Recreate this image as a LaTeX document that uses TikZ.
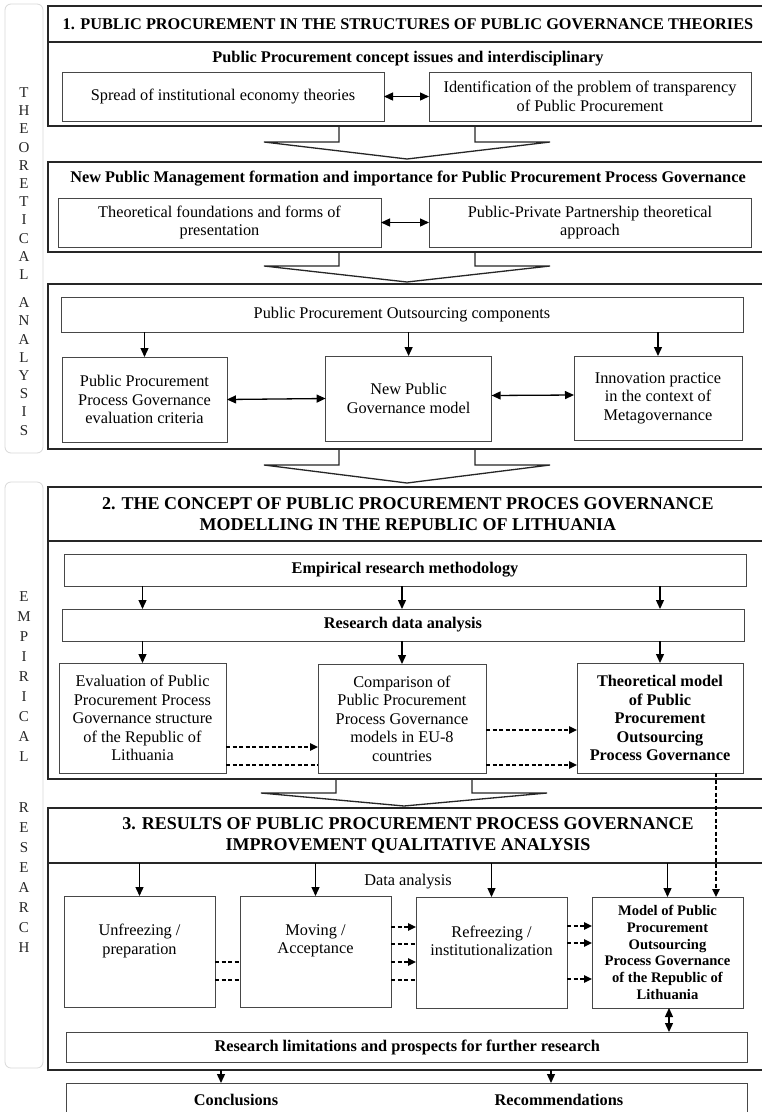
\documentclass[tikz,border=0pt]{standalone}
\usepackage{fontspec}
\setmainfont{Liberation Serif}
\usetikzlibrary{arrows.meta,calc}

% flat block arrow hanging below a section box: centre x, top y, neck y, tip y
\newcommand\blockarrow[4]{%
  \draw[blk] ({#1-68},#2) -- ({#1-68},#3) -- ({#1-143},#3) -- (#1,#4)
    -- ({#1+143},#3) -- ({#1+68},#3) -- ({#1+68},#2);}

\begin{document}
\begin{tikzpicture}[x=1pt,y=-1pt,
  every node/.style={inner sep=0pt, outer sep=0pt},
  body/.style={font=\fontsize{16.3}{18.5}\selectfont, align=center},
  bodyb/.style={font=\fontsize{16.3}{18.5}\selectfont\bfseries, align=center},
  ttl/.style={font=\fontsize{18}{20.5}\selectfont\bfseries, align=center},
  sect/.style={draw=black!85, line width=1.3pt, rectangle},
  ibox/.style={draw=black!72, line width=1pt, rectangle, fill=white},
  side/.style={draw=black!15, line width=0.8pt, rounded corners=6pt, rectangle},
  sidetxt/.style={font=\fontsize{15}{18.2}\selectfont, align=center, text=black!85},
  arr/.style={-{Triangle[length=9pt,width=8pt]}, line width=1.3pt},
  darr/.style={{Triangle[length=9pt,width=8pt]}-{Triangle[length=9pt,width=8pt]}, line width=1.3pt},
  dsh/.style={dash pattern=on 4pt off 2.5pt, line width=1.3pt},
  dsharr/.style={dsh, -{Triangle[length=8pt,width=7.5pt]}},
  blk/.style={draw=black!85, line width=1.3pt, line join=miter},
]
\useasboundingbox (0,0) rectangle (762,1112);
\clip (0,0) rectangle (762,1112);
\fill[white] (0,0) rectangle (762,1112);

% ---------- side captions ----------
\node[side, minimum width=38, minimum height=449] (sp1) at (24,228.5) {};
\node[sidetxt] (sp1a) at (24,183.5) {T\\H\\E\\O\\R\\E\\T\\I\\C\\A\\L};
\node[sidetxt] (sp1b) at (24,366.5) {A\\N\\A\\L\\Y\\S\\I\\S};
\node[side, minimum width=38, minimum height=586] (sp2) at (24,775) {};
\node[sidetxt, font=\fontsize{15}{19.9}\selectfont] (sp2a) at (24,676.5) {E\\M\\P\\I\\R\\I\\C\\A\\L};
\node[sidetxt, font=\fontsize{15}{19.9}\selectfont] (sp2b) at (24,877.5) {R\\E\\S\\E\\A\\R\\C\\H};

% ---------- section 1 ----------
\node[sect, minimum width=720, minimum height=120] (s1) at (408,66) {};
\node[sect, minimum width=720, minimum height=36, font=\fontsize{16.3}{19}\selectfont\bfseries] (t1) at (408,24)
  {1. PUBLIC PROCUREMENT IN THE STRUCTURES OF PUBLIC GOVERNANCE THEORIES};
\node[bodyb] (h1) at (408,59) {Public Procurement concept issues and interdisciplinary};
\node[ibox, body, minimum width=322, minimum height=49] (spread) at (223,96.5)
  {Spread of institutional economy theories};
\node[ibox, body, minimum width=322, minimum height=49] (ident) at (590,96.5)
  {Identification of the problem of transparency\\of Public Procurement};
\draw[darr] (spread.east) -- (ident.west);

\blockarrow{407}{126}{142}{159}

\node[sect, minimum width=720, minimum height=90] (s2) at (408,207) {};
\node[bodyb] (h2) at (408,179)
  {New Public Management formation and importance for Public Procurement Process Governance};
\node[ibox, body, minimum width=323, minimum height=49] (theo) at (219.5,222.5)
  {Theoretical foundations and forms of\\presentation};
\node[ibox, body, minimum width=322, minimum height=49] (ppp) at (590,222.5)
  {Public-Private Partnership theoretical\\approach};
\draw[darr] (theo.east) -- (ppp.west);

\blockarrow{407}{252}{266}{282}

\node[sect, minimum width=720, minimum height=165] (s3) at (408,366.5) {};
\node[ibox, body, minimum width=682, minimum height=35] (comp) at (402,314.5)
  {Public Procurement Outsourcing components};
\node[ibox, body, minimum width=165, minimum height=85] (eval) at (144.5,399.5)
  {Public Procurement\\Process Governance\\evaluation criteria};
\node[ibox, body, minimum width=166, minimum height=85] (npg) at (408.6,398.5)
  {New Public\\Governance model};
\node[ibox, body, minimum width=168, minimum height=84] (innov) at (658,398)
  {Innovation practice\\in the context of\\Metagovernance};
\foreach \b in {eval,npg,innov}
  \draw[arr] (comp.south -| \b.north) -- (\b.north);
\draw[darr] (eval.east) -- (npg.west);
\draw[darr] ([yshift=3pt]npg.east) -- ([yshift=3pt]innov.west);

\blockarrow{407}{449}{465}{483}

% ---------- section 2 ----------
\node[sect, minimum width=720, minimum height=292] (s4) at (408,633) {};
\node[sect, ttl, minimum width=720, minimum height=54] (t4) at (408,514)
  {2. THE CONCEPT OF PUBLIC PROCUREMENT PROCES GOVERNANCE\\MODELLING IN THE REPUBLIC OF LITHUANIA};
\node[ibox, bodyb, minimum width=682, minimum height=32] (emp) at (405,570)
  {Empirical research methodology};
\node[ibox, bodyb, minimum width=682, minimum height=32] (rda) at (403,625)
  {Research data analysis};
\node[ibox, body, minimum width=167, minimum height=110] (evl) at (142.5,718)
  {Evaluation of Public\\Procurement Process\\Governance structure\\of the Republic of\\Lithuania};
\node[ibox, body, minimum width=168, minimum height=109] (cmp) at (402,718.5)
  {Comparison of\\Public Procurement\\Process Governance\\models in EU-8\\countries};
\node[ibox, bodyb, minimum width=166, minimum height=110] (thm) at (660,718)
  {Theoretical model\\of Public\\Procurement\\Outsourcing\\Process Governance};
\foreach \b in {evl,cmp,thm} {
  \draw[arr] (emp.south -| \b.north) -- (rda.north -| \b.north);
  \draw[arr] (rda.south -| \b.north) -- (\b.north);
}
\draw[dsharr] (cmp.east |- 0,730) -- (thm.west |- 0,730);
\draw[dsharr] (evl.east |- 0,747) -- (cmp.west |- 0,747);
\draw[dsh] (evl.east |- 0,765) -- (cmp.west |- 0,765);
\draw[dsharr] (cmp.east |- 0,765) -- (thm.west |- 0,765);

\blockarrow{404}{779}{793}{806}

% ---------- section 3 ----------
\node[sect, minimum width=720, minimum height=262] (s5) at (408,939) {};
\node[sect, ttl, minimum width=720, minimum height=55] (t5) at (408,835.5)
  {3. RESULTS OF PUBLIC PROCUREMENT PROCESS GOVERNANCE\\IMPROVEMENT QUALITATIVE ANALYSIS};
\node[body] (da) at (408,882) {Data analysis};
\node[ibox, minimum width=151, minimum height=111] (unf) at (139.5,951.5) {};
\node[ibox, minimum width=151, minimum height=111] (mov) at (315.5,951.5) {};
\node[ibox, minimum width=151, minimum height=111] (ref) at (491.5,952.5) {};
\node[ibox, minimum width=151, minimum height=111,
      font=\fontsize{14.6}{16.7}\selectfont\bfseries, align=center] (mdl) at (667.5,952.5)
  {Model of Public\\Procurement\\Outsourcing\\Process Governance\\of the Republic of\\Lithuania};
\node[body] (unft) at ([yshift=10.5pt]unf.center) {Unfreezing /\\preparation};
\node[body] (movt) at ([yshift=10.5pt]mov.center) {Moving /\\Acceptance};
\node[body] (reft) at ([yshift=11.5pt]ref.center) {Refreezing /\\institutionalization};
\foreach \b in {unf,mov,ref,mdl}
  \draw[arr] (t5.south -| \b.north) -- (\b.north);
\draw[dsharr] (thm.south -| 716,0) -- (mdl.north -| 716,0);

\draw[dsh] (unf.east |- 0,962) -- (mov.west |- 0,962);
\draw[dsh] (unf.east |- 0,980) -- (mov.west |- 0,980);
\draw[dsharr] (mov.east |- 0,927) -- (ref.west |- 0,927);
\draw[dsh] (mov.east |- 0,944) -- (ref.west |- 0,944);
\draw[dsharr] (mov.east |- 0,962) -- (ref.west |- 0,962);
\draw[dsh] (mov.east |- 0,980) -- (ref.west |- 0,980);
\draw[dsharr] (ref.east |- 0,926) -- (mdl.west |- 0,926);
\draw[dsharr] (ref.east |- 0,943) -- (mdl.west |- 0,943);
\draw[dsharr] (ref.east |- 0,979) -- (mdl.west |- 0,979);

\node[ibox, bodyb, minimum width=681, minimum height=30] (lim) at (407.3,1047)
  {Research limitations and prospects for further research};
\draw[darr] (mdl.south -| 669,0) -- (lim.north -| 669,0);

% ---------- outcome ----------
\node[ibox, minimum width=681, minimum height=57] (out) at (407.3,1111.5) {};
\node[bodyb] (concl) at (236,1100) {Conclusions};
\node[bodyb] (recom) at (559,1100) {Recommendations};
\coordinate (oa) at (221,0);
\coordinate (ob) at (551,0);
\draw[arr] (s5.south -| oa) -- (out.north -| oa);
\draw[arr] (s5.south -| ob) -- (out.north -| ob);
\end{tikzpicture}
\end{document}
